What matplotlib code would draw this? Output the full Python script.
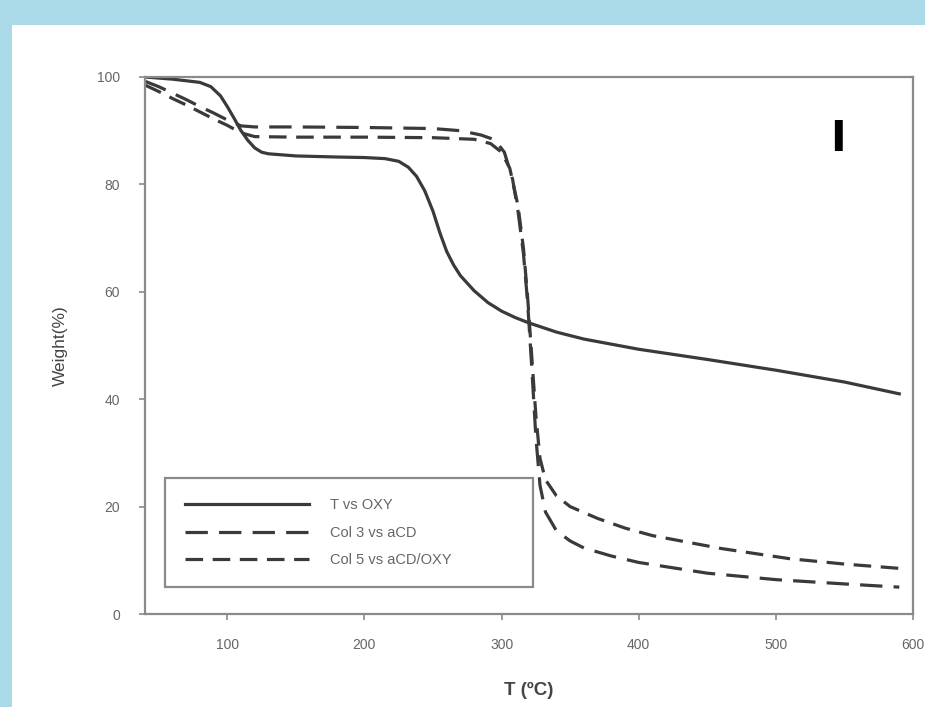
import matplotlib
matplotlib.use("Agg")
import matplotlib.pyplot as plt
from matplotlib.patches import Rectangle

plt.rcParams['font.family'] = ['Liberation Sans', 'DejaVu Sans']

# T vs OXY (solid)
t_oxy = [40, 60, 80, 88, 95, 100, 105, 110, 115, 120, 125, 130, 150, 180, 200, 215, 225, 232, 238,
         244, 250, 255, 260, 265, 270, 280, 290, 300, 310, 320, 340, 360, 400, 450, 500, 550, 590]
w_oxy = [100, 99.6, 99.0, 98.2, 96.5, 94.5, 92.3, 90.0, 88.2, 86.8, 86.0, 85.7, 85.3, 85.1, 85.0, 84.8,
         84.3, 83.2, 81.5, 78.8, 75.0, 71.0, 67.5, 65.0, 63.0, 60.2, 58.0, 56.4, 55.2, 54.2, 52.5,
         51.2, 49.3, 47.4, 45.4, 43.2, 41.0]

# Col 3 vs aCD (long dash)
t_c3 = [40, 50, 60, 70, 80, 90, 100, 110, 120, 150, 200, 250, 270, 285, 295, 302, 308, 312, 316,
        319, 322, 325, 328, 332, 340, 350, 360, 380, 400, 450, 500, 550, 590]
w_c3 = [99.2, 98.2, 97.0, 95.8, 94.5, 93.3, 92.0, 90.9, 90.7, 90.7, 90.6, 90.4, 90.0, 89.2, 88.3,
        86.0, 81.0, 75.0, 67.0, 58.0, 46.0, 33.0, 24.0, 19.0, 15.5, 13.6, 12.3, 10.8, 9.6, 7.6, 6.4,
        5.6, 5.0]

# Col 5 vs aCD/OXY (short dash)
t_c5 = [40, 50, 60, 70, 80, 90, 100, 110, 120, 150, 200, 250, 280, 292, 300, 306, 312, 316, 319,
        322, 325, 328, 332, 340, 350, 370, 390, 410, 460, 510, 550, 590]
w_c5 = [98.5, 97.3, 96.0, 94.8, 93.5, 92.2, 91.0, 89.6, 88.9, 88.8, 88.8, 88.7, 88.4, 87.6, 86.0,
        83.0, 76.0, 68.0, 59.0, 48.0, 37.0, 29.0, 25.0, 22.0, 20.0, 17.8, 16.0, 14.6, 12.2, 10.3,
        9.3, 8.5]

labels = ['T vs OXY', 'Col 3 vs aCD', 'Col 5 vs aCD/OXY']
xticks = [100, 200, 300, 400, 500, 600]
yticks = [0, 20, 40, 60, 80, 100]

fig = plt.figure(figsize=(9.25, 7.07), dpi=100, facecolor='#aad9e8')
# white panel behind the axes
panel = Rectangle((12/925, 0), 1, 1 - 25/707, transform=fig.transFigure,
                  facecolor='white', edgecolor='none', zorder=-10)
fig.add_artist(panel)

ax = fig.add_axes([145/925, 1 - 614/707, 768/925, 537/707])
ax.set_facecolor('white')

lc = '#3a3a3a'
ax.plot(t_oxy, w_oxy, color=lc, lw=2.3, linestyle='-', label=labels[0])
ax.plot(t_c3, w_c3, color=lc, lw=2.3, linestyle=(0, (7, 3.5)), label=labels[1])
ax.plot(t_c5, w_c5, color=lc, lw=2.3, linestyle=(0, (5.5, 3)), label=labels[2])

ax.set_xlim(40, 600)
ax.set_ylim(0, 100)
ax.set_xticks(xticks)
ax.set_yticks(yticks)

for s in ax.spines.values():
    s.set_color('#8a8a8a')
    s.set_linewidth(1.6)
ax.tick_params(direction='out', length=4, width=1.2, color='#8a8a8a',
               labelsize=10, labelcolor='#666666')
ax.tick_params(axis='x', pad=13)
ax.tick_params(axis='y', pad=14)

ax.set_xlabel('T (ºC)', fontsize=13.5, fontweight='bold', color='#444444', labelpad=22)
ax.set_ylabel('Weight(%)', fontsize=12.5, color='#444444', labelpad=21)

ax.text(545, 88.5, 'I', fontsize=30, fontweight='bold', color='black',
        ha='center', va='center', family='DejaVu Sans')

leg = ax.legend(loc='lower left', bbox_to_anchor=(0.026, 0.05, 0.479, 0.205), mode='expand',
                borderaxespad=0, fancybox=False, edgecolor='#8a8a8a', framealpha=1, fontsize=10.5,
                handlelength=8.5, handletextpad=1.5, labelspacing=0.95, borderpad=1.35)
leg.get_frame().set_linewidth(1.6)
for t in leg.get_texts():
    t.set_color('#666666')

fig.savefig('out.png', dpi=100, facecolor=fig.get_facecolor())
